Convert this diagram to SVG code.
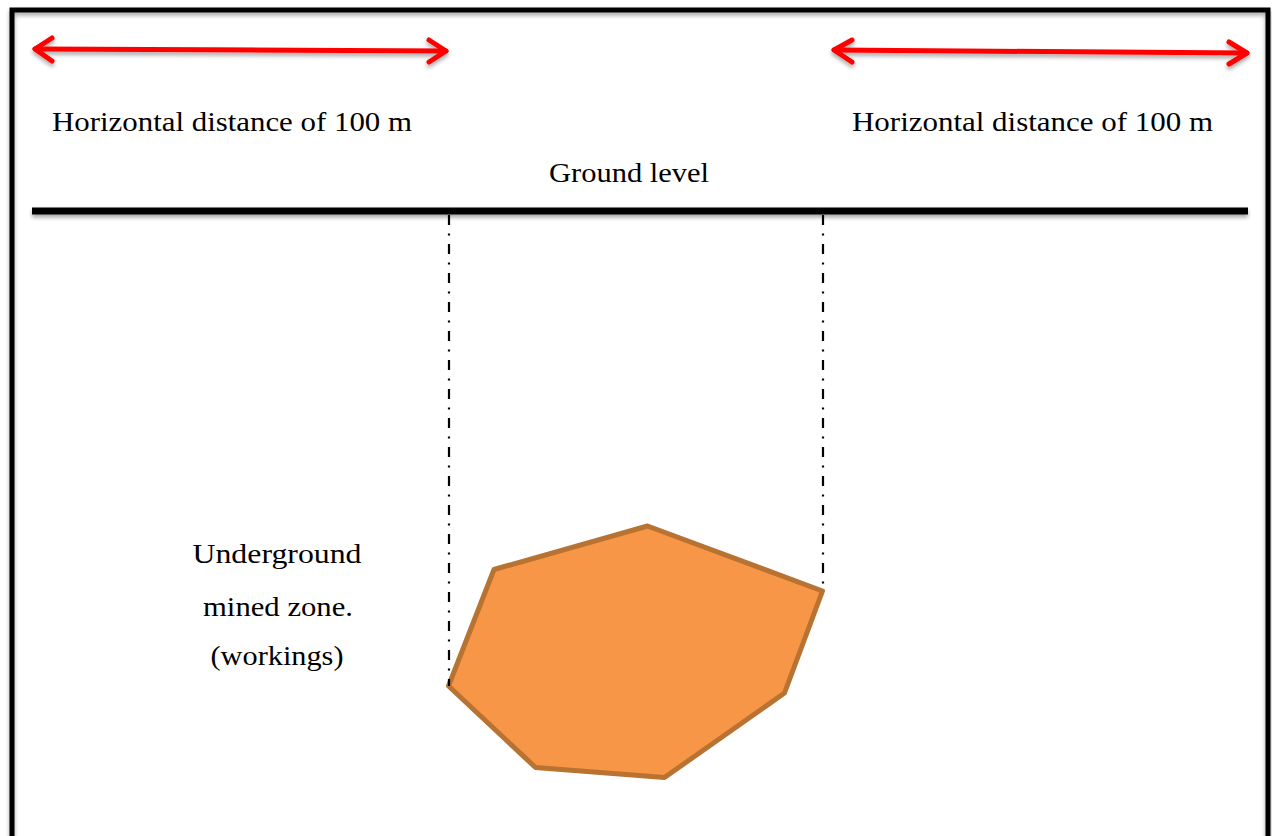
<svg xmlns="http://www.w3.org/2000/svg" width="1272" height="836" viewBox="0 0 1272 836">
  <style>
    .lbl { font-family: "Liberation Serif", "Times New Roman", serif; font-size: 28px; fill: #000; }
    .arrow { fill: none; stroke: #FF0000; stroke-width: 5; stroke-linecap: round; stroke-linejoin: round; }
    .guide { fill: none; stroke: #000; stroke-width: 2.2; stroke-dasharray: 10 8.5 2 8.5; }
  </style>
  <defs>
    <filter id="shadow" filterUnits="userSpaceOnUse" x="0" y="0" width="1272" height="900">
      <feGaussianBlur in="SourceAlpha" stdDeviation="2"/>
      <feOffset dx="0" dy="3" result="b"/>
      <feComponentTransfer><feFuncA type="linear" slope="0.35"/></feComponentTransfer>
      <feMerge><feMergeNode/><feMergeNode in="SourceGraphic"/></feMerge>
    </filter>
  </defs>
  <rect x="0" y="0" width="1272" height="836" fill="#ffffff"/>

  <g id="frame">
    <rect x="12" y="10" width="1256" height="850" fill="none" stroke="#000" stroke-width="5" filter="url(#shadow)"/>
  </g>

  <g id="ground">
    <rect x="32" y="207.5" width="1216" height="7" fill="#000" filter="url(#shadow)"/>
    <text class="lbl" x="629" y="182" text-anchor="middle" textLength="160" lengthAdjust="spacingAndGlyphs">Ground level</text>
  </g>

  <g id="mined-zone">
    <polygon points="448.5,686 494,569.5 647.5,526 822.5,591 784.5,693 664.5,777.5 535.5,767.5" fill="#F79646" stroke="#B87333" stroke-width="5" stroke-linejoin="round"/>
  </g>

  <g id="connectors">
    <g filter="url(#shadow)">
      <line class="arrow" x1="35" y1="49" x2="446" y2="51"/>
      <polyline class="arrow" points="52,38 35,49 52,61"/>
      <polyline class="arrow" points="429,40 446,51 429,62"/>
      <line class="arrow" x1="834" y1="50" x2="1247" y2="53"/>
      <polyline class="arrow" points="852,40 834,50 852,62"/>
      <polyline class="arrow" points="1229,42 1247,53 1229,64"/>
    </g>
    <line class="guide" x1="449" y1="215" x2="449" y2="686"/>
    <line class="guide" x1="823" y1="215" x2="823" y2="590"/>
  </g>

  <g id="label-left">
    <text class="lbl" x="52" y="131" textLength="360" lengthAdjust="spacingAndGlyphs">Horizontal distance of 100 m</text>
  </g>
  <g id="label-right">
    <text class="lbl" x="852" y="131" textLength="361" lengthAdjust="spacingAndGlyphs">Horizontal distance of 100 m</text>
  </g>

  <g id="label-underground">
    <text class="lbl" x="277" y="563" text-anchor="middle" textLength="169" lengthAdjust="spacingAndGlyphs">Underground</text>
    <text class="lbl" x="278" y="616" text-anchor="middle" textLength="150" lengthAdjust="spacingAndGlyphs">mined zone.</text>
    <text class="lbl" x="277" y="665" text-anchor="middle" textLength="133" lengthAdjust="spacingAndGlyphs">(workings)</text>
  </g>
</svg>
